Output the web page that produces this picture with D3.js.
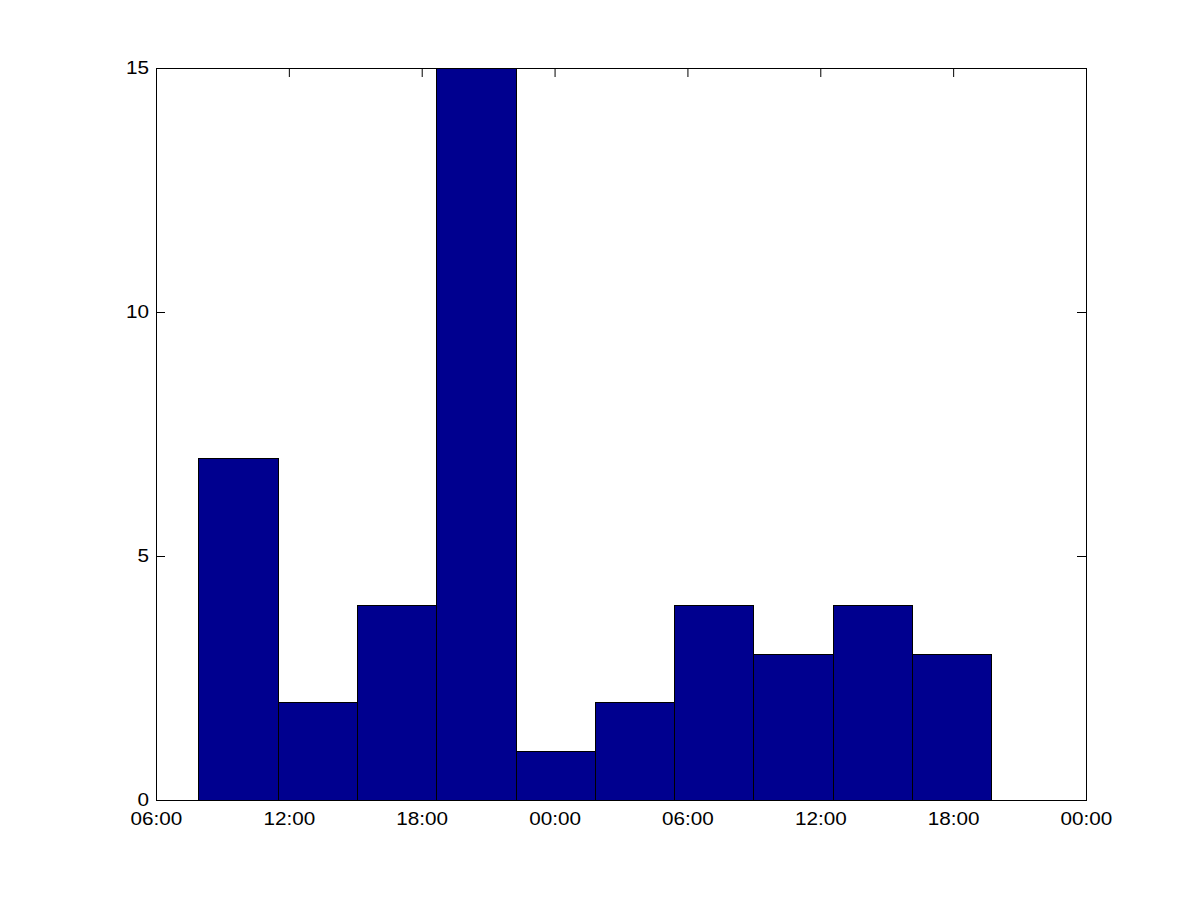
<!DOCTYPE html>
<html>
<head>
<meta charset="utf-8">
<script src="https://cdn.jsdelivr.net/npm/d3@7"></script>
<style>
  body { margin: 0; background: #fff; }
  .tick text { font-family: "Liberation Sans", Arial, sans-serif; font-size: 18px; fill: #000; }
</style>
</head>
<body>
<div id="chart"></div>
<script>
// histogram data
var binEdges = ["2013-01-01 07:55", "2013-01-01 11:30", "2013-01-01 15:05", "2013-01-01 18:40",
  "2013-01-01 22:15", "2013-01-02 01:49", "2013-01-02 05:24", "2013-01-02 08:59",
  "2013-01-02 12:34", "2013-01-02 16:08", "2013-01-02 19:43"];
var counts = [7, 2, 4, 15, 1, 2, 4, 3, 4, 3];
var xDomain = ["2013-01-01 06:00", "2013-01-03 00:00"];
var yTicks = [0, 5, 10, 15];

var svgWidth = 1200;
var svgHeight = 900;
var margin = { top: 68, right: 114, bottom: 100, left: 156 };
var width = svgWidth - margin.left - margin.right;
var height = svgHeight - margin.top - margin.bottom;

var parseTime = d3.timeParse("%Y-%m-%d %H:%M");
var edges = binEdges.map(parseTime);
var bins = counts.map(function(c, i) {
  return { x0: edges[i], x1: edges[i + 1], count: c };
});

var svg = d3.select("#chart")
  .append("svg")
  .attr("width", svgWidth)
  .attr("height", svgHeight);

var chartGroup = svg.append("g")
  .attr("transform", `translate(${margin.left}, ${margin.top})`);

var xScale = d3.scaleTime()
  .domain(xDomain.map(parseTime))
  .range([0, width]);

var yScale = d3.scaleLinear()
  .domain([0, 15])
  .range([height, 0]);

var xTickValues = d3.timeHour.every(6).range(xScale.domain()[0], d3.timeMinute.offset(xScale.domain()[1], 1));
var tickLen = 9;

// ticks on all four sides, pointing inwards
var bottomAxis = d3.axisBottom(xScale)
  .tickValues(xTickValues)
  .tickFormat(d3.timeFormat("%H:%M"))
  .tickSizeInner(-tickLen)
  .tickSizeOuter(0);
var topAxis = d3.axisTop(xScale)
  .tickValues(xTickValues)
  .tickFormat("")
  .tickSizeInner(-tickLen)
  .tickSizeOuter(0);
var leftAxis = d3.axisLeft(yScale)
  .tickValues(yTicks)
  .tickSizeInner(-tickLen)
  .tickSizeOuter(0);
var rightAxis = d3.axisRight(yScale)
  .tickValues(yTicks)
  .tickFormat("")
  .tickSizeInner(-tickLen)
  .tickSizeOuter(0);

var xAxis = chartGroup.append("g")
  .attr("transform", `translate(0, ${height})`)
  .call(bottomAxis);
xAxis.selectAll(".tick text")
  .attr("y", 25.5)
  .attr("dy", 0)
  .attr("transform", "scale(1.15,1)");

chartGroup.append("g").call(topAxis);

var yAxis = chartGroup.append("g").call(leftAxis);
yAxis.selectAll(".tick text")
  .attr("x", -7 / 1.15)
  .attr("dy", "0.3em")
  .attr("transform", "scale(1.15,1)");

chartGroup.append("g")
  .attr("transform", `translate(${width}, 0)`)
  .call(rightAxis);

chartGroup.selectAll(".domain").remove();
chartGroup.selectAll(".tick line").attr("stroke", "#000");

// bars
chartGroup.selectAll(".bar")
  .data(bins)
  .enter()
  .append("rect")
  .attr("class", "bar")
  .attr("x", d => Math.round(xScale(d.x0)) + 0.5)
  .attr("y", d => Math.round(yScale(d.count)) + 0.5)
  .attr("width", d => Math.round(xScale(d.x1)) - Math.round(xScale(d.x0)))
  .attr("height", d => Math.round(height) - Math.round(yScale(d.count)))
  .attr("fill", "#00008f")
  .attr("stroke", "#000")
  .attr("stroke-width", 1);

// axes box
chartGroup.append("rect")
  .attr("x", 0.5)
  .attr("y", 0.5)
  .attr("width", width)
  .attr("height", height)
  .attr("fill", "none")
  .attr("stroke", "#000")
  .attr("stroke-width", 1);
</script>
</body>
</html>
